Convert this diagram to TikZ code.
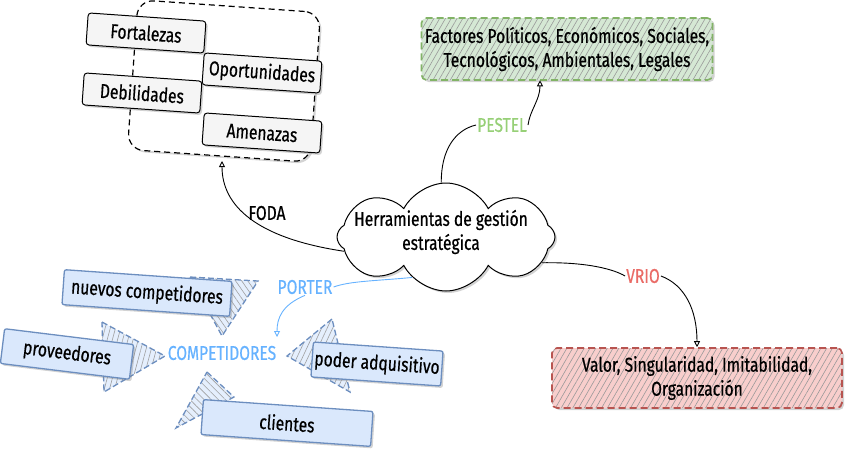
\documentclass[tikz,border=0pt]{standalone}
\usepackage{fontspec}
\setmainfont{Fira Sans}[FakeStretch=0.78,FakeBold=0.6]
\usetikzlibrary{shapes.symbols,shadows,patterns.meta,arrows.meta}
\definecolor{grayfill}{HTML}{F5F5F5}
\definecolor{bluefill}{HTML}{DAE8FC}
\definecolor{bluedraw}{HTML}{6C8EBF}
\definecolor{greenfill}{HTML}{D5E8D4}
\definecolor{greendraw}{HTML}{82B366}
\definecolor{redfill}{HTML}{F8CECC}
\definecolor{reddraw}{HTML}{B85450}
\definecolor{pestelc}{HTML}{97D077}
\definecolor{vrioc}{HTML}{EA6B66}
\definecolor{porterc}{HTML}{66B2FF}
\tikzset{
  shad/.style={drop shadow={opacity=0.35,shadow xshift=2pt,shadow yshift=-2pt}},
  graybox/.style={draw=black,fill=grayfill,line width=1pt,rounded corners=3pt,shad,
    minimum width=118pt,minimum height=32pt,rotate=-4,inner sep=2pt},
  bluebox/.style={draw=bluedraw,fill=bluefill,line width=1.3pt,rounded corners=2pt,shad,
    minimum height=35pt,rotate=-4,inner sep=2pt},
  hatchbox/.style={dashed,dash pattern=on 7pt off 4pt,line width=1.6pt,rounded corners=5pt,shad,
    align=center,inner sep=0pt,
    pattern={Lines[angle=60,distance=5pt,line width=0.6pt]},pattern color=gray!80},
  arrowhead/.style={draw=bluedraw,dash pattern=on 6pt off 3pt,line width=1.3pt,
    preaction={fill=bluefill!70},pattern color=gray!75},
  conn/.style={line width=0.9pt,-{Triangle[open,length=6pt,width=6pt]}},
  lbl/.style={inner sep=1pt}
}
\begin{document}
\begin{tikzpicture}[x=1pt,y=1pt,font=\fontsize{20}{24}\selectfont]
\useasboundingbox (0,0) rectangle (845,-450);

% FODA group
\node[draw=black,dashed,dash pattern=on 6pt off 4pt,line width=1.2pt,rounded corners=16pt,
  rotate=-4,minimum width=183pt,minimum height=150pt,shad,fill=white] (foda) at (224,-81) {};
\node[graybox] (fort) at (146,-33) {Fortalezas};
\node[graybox] (opor) at (262,-73) {Oportunidades};
\node[graybox] (debi) at (142,-93) {Debilidades};
\node[graybox] (amen) at (262,-133) {Amenazas};

% PESTEL box
\node[hatchbox,draw=greendraw,preaction={fill=greenfill},minimum width=291pt,minimum height=62pt]
  (pestel) at (567,-49) {Factores Políticos, Económicos, Sociales,\\Tecnológicos, Ambientales, Legales};

% VRIO box
\node[hatchbox,draw=reddraw,preaction={fill=redfill},minimum width=290pt,minimum height=60pt]
  (vrio) at (697,-378) {Valor, Singularidad, Imitabilidad,\\Organización};

% central cloud
\node[cloud,cloud puffs=8,cloud puff arc=125,aspect=2,draw=black,fill=white,line width=1pt,shad,
  minimum width=218pt,minimum height=108pt,inner sep=0pt] (center) at (446,-237) {};
\node[align=center,inner sep=0pt] (ctext) at (441,-232) {Herramientas de gestión\\estratégica};

% labels
\node[lbl,fill=white] (lfoda) at (267,-213) {FODA};
\node[lbl,fill=white,text=pestelc] (lpestel) at (502,-125) {PESTEL};
\node[lbl,fill=white,text=vrioc] (lvrio) at (643,-276) {VRIO};
\node[lbl,text=porterc] (lporter) at (305,-287) {PORTER};
\node[lbl,text=porterc] (comp) at (222,-353) {COMPETIDORES};

% connectors
\coordinate (fodaend) at (222,-161);
\draw[conn] (center.188) .. controls (255,-238) and (222,-205) .. (fodaend);
\draw[line width=0.9pt] (center.95) .. controls (441,-150) and (455,-130) .. (lpestel.west);
\draw[conn] (lpestel.east) .. controls (530,-110) and (540,-100) .. (pestel.south -| 540,0);
\draw[line width=0.9pt] (center.-15) .. controls (590,-262) and (615,-270) .. (lvrio.west);
\draw[conn] (lvrio.east) .. controls (685,-285) and (697,-310) .. (vrio.north);
\draw[draw=porterc,line width=0.9pt] (center.-130) .. controls (375,-281) and (350,-281) .. (lporter.east);
\coordinate (portend) at (277,-337);
\draw[draw=porterc,conn] (lporter.south) .. controls (282,-305) and (277,-318) .. (portend);

% Porter arrow heads
\path[arrowhead,pattern={Lines[angle=-55,distance=5pt,line width=0.6pt]}]
  (190,-277) -- (258,-281) -- (222,-336) -- cycle;
\path[arrowhead,pattern={Lines[angle=75,distance=5pt,line width=0.6pt]}]
  (102,-322) -- (165,-356) -- (104,-392) -- cycle;
\path[arrowhead,pattern={Lines[angle=65,distance=5pt,line width=0.6pt]}]
  (332,-319) -- (287,-356) -- (350,-392) -- cycle;
\path[arrowhead,pattern={Lines[angle=-45,distance=5pt,line width=0.6pt]}]
  (207,-372) -- (234,-397) -- (176,-428) -- cycle;

% Porter boxes
\node[bluebox,minimum width=168pt] (nuev) at (147,-293) {nuevos competidores};
\node[bluebox,minimum width=130pt,rotate=-3] (prov) at (67,-354) {proveedores};
\node[bluebox,minimum width=130pt] (poder) at (377,-364) {poder adquisitivo};
\node[bluebox,minimum width=170pt] (clie) at (287,-423) {clientes};
\end{tikzpicture}
\end{document}
